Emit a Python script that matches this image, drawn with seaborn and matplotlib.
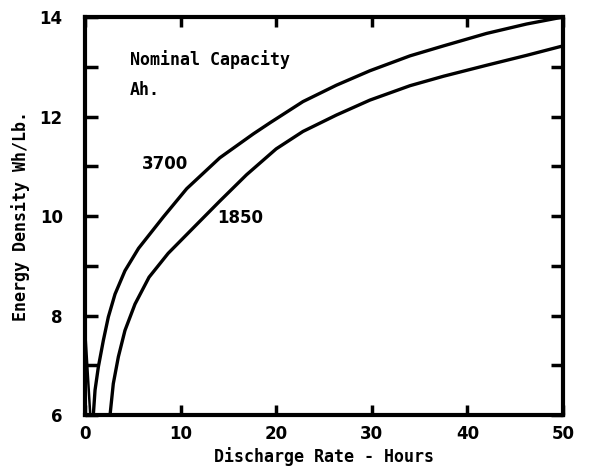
import seaborn as sns
import matplotlib.pyplot as plt
import pandas as pd
import numpy as np

# curves (discharge hours -> Wh/lb)
hours_3700 = [0.87, 1.05, 1.4, 1.92, 2.44, 3.14, 4.18, 5.6, 8.19, 10.64, 14.1,
              17.6, 19.4, 22.8, 26.3, 29.8, 34.0, 37.5, 42.0, 46.2, 50.0]
wh_3700 = [6.0, 6.5, 6.97, 7.5, 7.97, 8.43, 8.9, 9.35, 9.98, 10.55, 11.17,
           11.65, 11.88, 12.3, 12.63, 12.92, 13.22, 13.42, 13.67, 13.86, 14.0]
hours_1850 = [2.62, 2.96, 3.49, 4.18, 5.23, 6.7, 8.7, 11.68, 14.1, 16.9, 20.0,
              22.8, 26.3, 29.8, 34.0, 37.5, 42.0, 46.2, 50.0]
wh_1850 = [6.0, 6.63, 7.17, 7.7, 8.23, 8.77, 9.25, 9.83, 10.3, 10.83, 11.35,
           11.7, 12.03, 12.33, 12.62, 12.81, 13.03, 13.23, 13.42]
# short stray stroke in the lower-left corner
stub_hours = [0.05, 0.55]
stub_wh = [7.6, 6.0]

x_ticks = [0, 10, 20, 30, 40, 50]
y_ticks = [6, 8, 10, 12, 14]

df = pd.concat([
    pd.DataFrame({"hours": hours_3700, "wh": wh_3700, "cap": "3700"}),
    pd.DataFrame({"hours": hours_1850, "wh": wh_1850, "cap": "1850"}),
])

sns.set_style("white")
plt.rcParams['font.family'] = ['DejaVu Sans']
plt.rcParams['text.color'] = 'black'
plt.rcParams['axes.labelcolor'] = 'black'
plt.rcParams['xtick.color'] = 'black'
plt.rcParams['ytick.color'] = 'black'

fig = plt.figure(figsize=(6.08, 4.73), dpi=100)
ax = fig.add_axes([0.1398, 0.1226, 0.7862, 0.8414])

sns.lineplot(data=df, x="hours", y="wh", hue="cap", units="cap", estimator=None,
             palette={"3700": "black", "1850": "black"}, linewidth=2.4,
             sort=False, legend=False, ax=ax)
ax.plot(stub_hours, stub_wh, color="black", linewidth=1.8)

ax.set_xlim(0, 50)
ax.set_ylim(6, 14)
ax.set_xticks(x_ticks)
ax.set_yticks(y_ticks)
ax.set_yticks(np.arange(7, 14, 2), minor=True)
ax.tick_params(which="both", direction="in", left=True, bottom=True, top=True,
               right=True, width=2.5, length=9, labelsize=12)
ax.tick_params(axis="x", which="major", length=7, pad=7)
ax.tick_params(axis="y", which="major", pad=16)
for lab in ax.get_xticklabels() + ax.get_yticklabels():
    lab.set_fontweight("bold")
for sp in ax.spines.values():
    sp.set_linewidth(3)
    sp.set_color("black")

mono = dict(family="DejaVu Sans Mono", fontweight="bold", fontsize=12)
ax.set_xlabel("Discharge Rate - Hours", labelpad=3, **mono)
ax.set_ylabel("Energy Density Wh/Lb.", labelpad=7, **mono)

ax.text(4.7, 13.14, "Nominal Capacity", va="center", ha="left", **mono)
ax.text(4.7, 12.54, "Ah.", va="center", ha="left", **mono)
ax.text(8.4, 11.04, "3700", ha="center", va="center", fontsize=12, fontweight="bold")
ax.text(16.2, 9.96, "1850", ha="center", va="center", fontsize=12, fontweight="bold")

fig.savefig("out.png", dpi=100)
